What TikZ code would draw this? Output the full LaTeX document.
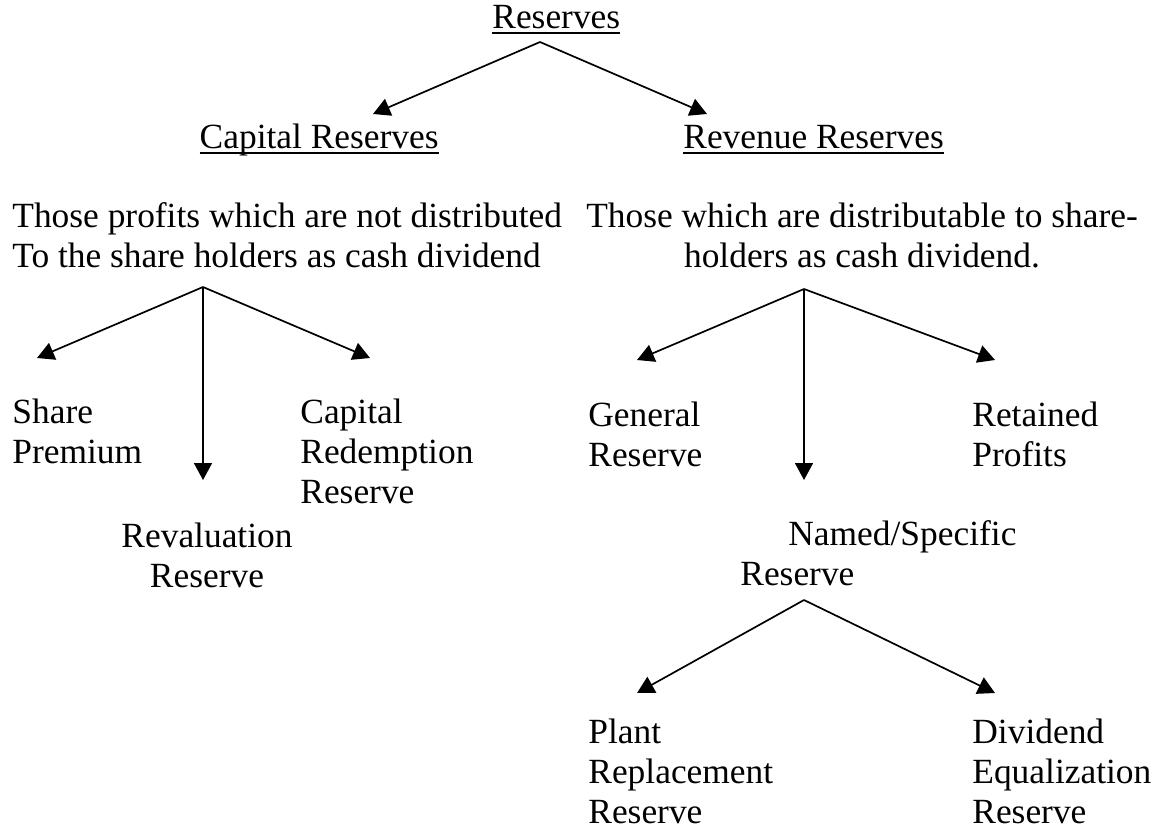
\documentclass[tikz,border=0pt]{standalone}
\usepackage{fontspec}
\setmainfont{Liberation Serif}
\usetikzlibrary{arrows.meta}
\newcommand{\uln}[1]{\setbox0=\hbox{#1}\rlap{\rule[-2.9pt]{\wd0}{0.75pt}}\box0}

\begin{document}
\begin{tikzpicture}[x=0.5pt,y=-0.5pt,
	>={Triangle[length=8.5pt,width=9pt]},
	every node/.style={inner sep=0pt,font=\fontsize{17.7}{20}\selectfont},
	txt/.style={anchor=base west,align=left},
	link/.style={->,line width=0.85pt}]
	\useasboundingbox (0,0) rectangle (1160,830);
	
	% multi-line nodes sit on the baseline of their last line
	\node (R)[txt] at (492,28) {\uln{Reserves}};
	\node (CR)[anchor=base east] at (439,148) {\uln{Capital Reserves}};
	\node (RR)[txt] at (683,148) {\uln{Revenue Reserves}};
	
	\node (TC)[txt] at (12,267) {Those profits which are not distributed\\To the share holders as cash dividend};
	\node (TR)[anchor=base,align=center] at (862,267) {Those which are distributable to share-\\holders as cash dividend.};
	
	\node (SP)[txt] at (12,463) {Share\\Premium};
	\node (CRR)[txt] at (300,503) {Capital\\Redemption\\Reserve};
	\node (RV)[anchor=base,align=center] at (207,587) {Revaluation\\Reserve};
	
	\node (GR)[txt] at (588,466) {General\\Reserve};
	\node (RP)[txt] at (972,466) {Retained\\Profits};
	\node (NS)[txt] at (740,585) {\hspace*{24pt}Named/Specific\\Reserve};
	
	\node (PR)[txt] at (588,823) {Plant\\Replacement\\Reserve};
	\node (DE)[txt] at (972,823) {Dividend\\Equalization\\Reserve};
	
	% fork points and arrow ends
	\coordinate (Rf) at (540,42);
	\coordinate (CRt) at (373,114);
	\coordinate (RRt) at (707,114);
	
	\coordinate (TCf) at (203,287);
	\coordinate (SPt) at (37,358);
	\coordinate (RVt) at (203,480);
	\coordinate (CRRt) at (370,358);
	
	\coordinate (TRf) at (804,289);
	\coordinate (GRt) at (637,360);
	\coordinate (NSt) at (804,480);
	\coordinate (RPt) at (995,360);
	
	\coordinate (NSf) at (804,600);
	\coordinate (PRt) at (637,693);
	\coordinate (DEt) at (995,693);
	
	\draw[link] (Rf)--(CRt);
	\draw[link] (Rf)--(RRt);
	
	\draw[link] (TCf)--(SPt);
	\draw[link] (TCf)--(RVt);
	\draw[link] (TCf)--(CRRt);
	
	\draw[link] (TRf)--(GRt);
	\draw[link] (TRf)--(NSt);
	\draw[link] (TRf)--(RPt);
	
	\draw[link] (NSf)--(PRt);
	\draw[link] (NSf)--(DEt);
\end{tikzpicture}
\end{document}
